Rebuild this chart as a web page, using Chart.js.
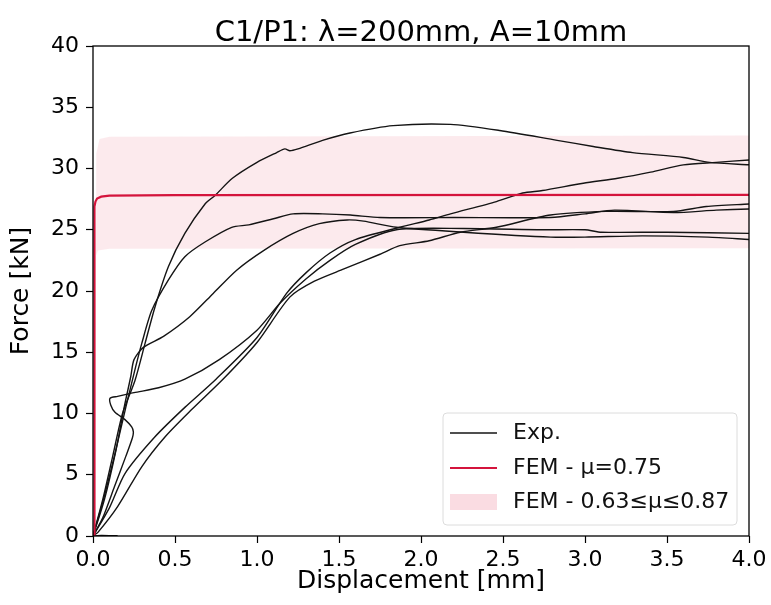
<!DOCTYPE html>
<html>
<head>
<meta charset="utf-8">
<script src="https://cdn.jsdelivr.net/npm/chart.js@4"></script>
<style>
  body { margin: 0; background: #fff; }
</style>
</head>
<body>
<canvas id="myChart" width="771" height="605"></canvas>
<script>
// experimental curves, displacement [mm] / force [kN]
var expA_x = [0, 0.06, 0.12, 0.18, 0.256, 0.317, 0.378, 0.46, 0.56, 0.683, 0.744, 0.85, 1.0, 1.12, 1.17, 1.2, 1.25, 1.4, 1.567, 1.83, 2.18, 2.48, 2.83, 3.05, 3.29, 3.6, 3.76, 4.0];
var expA_y = [0, 3, 6.5, 10, 12.7, 15.7, 18.7, 22.0, 24.7, 27.1, 27.8, 29.2, 30.5, 31.3, 31.6, 31.45, 31.6, 32.3, 32.9, 33.5, 33.6, 33.1, 32.3, 31.8, 31.3, 30.9, 30.5, 30.3];

var expB_x = [0, 0.06, 0.13, 0.2, 0.26, 0.297, 0.358, 0.46, 0.56, 0.683, 0.846, 0.95, 1.1, 1.22, 1.4, 1.57, 1.75, 2.2, 2.79, 3.0, 3.18, 3.54, 3.8, 4.0];
var expB_y = [0, 2.8, 6.5, 10.5, 13.8, 15.7, 18.4, 20.9, 22.8, 24.0, 25.2, 25.4, 25.9, 26.3, 26.3, 26.2, 26.0, 26.0, 26.0, 26.3, 26.6, 26.4, 26.6, 26.7];

var expC_x = [0, 0.07, 0.14, 0.19, 0.23, 0.25, 0.307, 0.43, 0.59, 0.733, 0.876, 1.04, 1.22, 1.38, 1.55, 1.65, 1.85, 2.26, 2.79, 3.0, 3.35, 3.75, 4.0];
var expC_y = [0, 3, 7, 10.5, 13, 14.4, 15.4, 16.3, 17.9, 19.8, 21.7, 23.3, 24.7, 25.5, 25.8, 25.7, 25.2, 24.8, 24.4, 24.4, 24.5, 24.4, 24.2];

var expD_x = [0, 0.06, 0.13, 0.2, 0.24, 0.246, 0.236, 0.195, 0.134, 0.108, 0.104, 0.15, 0.25, 0.4, 0.56, 0.77, 1.0, 1.14, 1.3, 1.445, 1.6, 1.85, 2.26, 2.74, 3.0, 3.1, 3.5, 4.0];
var expD_y = [0, 1.5, 4, 6.5, 8.0, 8.5, 8.9, 9.5, 10.1, 10.7, 11.25, 11.4, 11.7, 12.1, 12.8, 14.4, 16.8, 19.0, 21.0, 22.5, 23.8, 25.0, 25.1, 25.0, 25.0, 24.8, 24.8, 24.7];

var expE_x = [0, 0.1, 0.195, 0.378, 0.56, 0.75, 1.0, 1.18, 1.3, 1.445, 1.6, 1.87, 2.05, 2.18, 2.46, 2.62, 2.74, 2.99, 3.2, 3.4, 3.6, 3.8, 4.0];
var expE_y = [0, 2.3, 5.1, 8.1, 10.5, 12.8, 16.2, 19.8, 21.5, 23.1, 24.2, 25.2, 25.8, 26.3, 27.3, 28.0, 28.2, 28.8, 29.2, 29.7, 30.3, 30.5, 30.7];

var expF_x = [0.15, 0.05, 0, 0.03, 0.15, 0.297, 0.44, 0.6, 0.8, 1.0, 1.2, 1.35, 1.53, 1.75, 1.87, 2.05, 2.24, 2.46, 2.79, 3.13, 3.54, 3.74, 4.0];
var expF_y = [0.02, 0.05, 0, 0.3, 2.4, 5.65, 8.1, 10.3, 12.9, 15.8, 19.5, 20.8, 21.8, 23.0, 23.7, 24.1, 24.8, 25.2, 26.2, 26.5, 26.5, 26.9, 27.1];

// FEM, mu = 0.75
var fem_x = [0.008, 0.008, 0.01, 0.015, 0.025, 0.05, 0.1, 0.5, 4.0];
var fem_y = [0, 26.2, 26.9, 27.3, 27.55, 27.7, 27.78, 27.82, 27.85];

// FEM band, mu = 0.87 (upper) and mu = 0.63 (lower)
var bandHi_x = [0.015, 0.02, 0.04, 0.1, 4.0];
var bandHi_y = [0, 31.2, 32.4, 32.6, 32.7];
var bandLo_x = [0.005, 0.008, 0.03, 0.1, 4.0];
var bandLo_y = [0, 22.5, 23.3, 23.45, 23.5];

var xTicks = [0, 0.5, 1.0, 1.5, 2.0, 2.5, 3.0, 3.5, 4.0];
var yTicks = [0, 5, 10, 15, 20, 25, 30, 35, 40];

var titleText = "C1/P1: λ=200mm, A=10mm";
var legendLabels = ["Exp.", "FEM - μ=0.75", "FEM - 0.63≤μ≤0.87"];

function pts(xs, ys) {
    return xs.map(function (x, i) { return {x: x, y: ys[i]}; });
}

var BLACK = "#141414";
var RED = "#d4143c";
var PINK = "rgba(220,20,60,0.09)";
var FONT = "DejaVu Sans";

Chart.defaults.font.family = FONT;
Chart.defaults.color = "#000";

function expSet(xs, ys) {
    return {data: pts(xs, ys), borderColor: BLACK, borderWidth: 1.4, tension: 0.25, pointRadius: 0, showLine: true, fill: false};
}

var datasets = [
    {data: pts(fem_x, fem_y), borderColor: RED, borderWidth: 2.2, tension: 0, pointRadius: 0, showLine: true, fill: false},
    expSet(expA_x, expA_y),
    expSet(expB_x, expB_y),
    expSet(expC_x, expC_y),
    expSet(expD_x, expD_y),
    expSet(expE_x, expE_y),
    expSet(expF_x, expF_y),
    {data: pts(bandHi_x, bandHi_y), borderWidth: 0, borderColor: "rgba(0,0,0,0)", backgroundColor: PINK, pointRadius: 0, showLine: true, tension: 0, fill: "+1"},
    {data: pts(bandLo_x, bandLo_y), borderWidth: 0, borderColor: "rgba(0,0,0,0)", pointRadius: 0, showLine: true, tension: 0, fill: false}
];

// title over the axes, full box around the axes, legend in the lower right corner
var boxPlugin = {
    id: "boxAndLegend",
    afterDatasetsDraw: function (chart) {
        var a = chart.chartArea, c = chart.ctx;
        c.save();
        c.strokeStyle = "#000";
        c.lineWidth = 1.3;
        c.strokeRect(a.left, a.top, a.right - a.left, a.bottom - a.top);
        c.restore();
    },
    afterDraw: function (chart) {
        var a = chart.chartArea, c = chart.ctx;
        c.save();
        c.font = "29px " + FONT;
        c.fillStyle = "#000";
        c.textAlign = "center";
        c.textBaseline = "alphabetic";
        c.fillText(titleText, (a.left + a.right) / 2, a.top - 5);
        c.textAlign = "left";

        var w = 294, h = 112;
        var left = a.right - 12 - w, top = a.bottom - 11 - h;
        c.beginPath();
        c.roundRect(left, top, w, h, 4);
        c.fillStyle = "rgba(255,255,255,0.8)";
        c.fill();
        c.strokeStyle = "#dcdcdc";
        c.lineWidth = 1;
        c.stroke();
        c.font = "22px " + FONT;
        c.textBaseline = "middle";
        var rows = [top + 20, top + 55, top + 89];
        c.strokeStyle = BLACK; c.lineWidth = 1.4;
        c.beginPath(); c.moveTo(left + 7, rows[0]); c.lineTo(left + 54, rows[0]); c.stroke();
        c.strokeStyle = RED; c.lineWidth = 2.2;
        c.beginPath(); c.moveTo(left + 7, rows[1]); c.lineTo(left + 54, rows[1]); c.stroke();
        c.fillStyle = "rgba(220,20,60,0.15)";
        c.fillRect(left + 7, rows[2] - 8, 47, 16);
        c.fillStyle = "#111";
        for (var i = 0; i < legendLabels.length; i++) {
            c.fillText(legendLabels[i], left + 70, rows[i]);
        }
        c.restore();
    }
};

var ctx = document.getElementById("myChart").getContext("2d");
var myChart = new Chart(ctx, {
    type: "scatter",
    data: {datasets: datasets},
    plugins: [boxPlugin],
    options: {
        responsive: false,
        animation: false,
        layout: {padding: {left: 0, top: 46, right: 22, bottom: 0}},
        plugins: {
            legend: {display: false},
            tooltip: {enabled: false},
            title: {display: false}
        },
        scales: {
            x: {
                type: "linear",
                min: 0, max: 4,
                afterBuildTicks: function (s) { s.ticks = xTicks.map(function (v) { return {value: v}; }); },
                ticks: {
                    color: "#000",
                    font: {size: 22},
                    padding: 4,
                    maxRotation: 0,
                    autoSkip: false,
                    callback: function (v) { return Number(v).toFixed(1); }
                },
                grid: {drawOnChartArea: false, drawTicks: true, tickLength: 7, color: "#000", tickWidth: 1.2},
                border: {display: false},
                title: {display: true, text: "Displacement [mm]", color: "#000", font: {size: 25, lineHeight: 1.2}, padding: {top: 0, bottom: 9}},
                afterFit: function (s) { s.height = 69; }
            },
            y: {
                type: "linear",
                min: 0, max: 40,
                afterBuildTicks: function (s) { s.ticks = yTicks.map(function (v) { return {value: v}; }); },
                ticks: {color: "#000", font: {size: 22}, padding: 7, autoSkip: false},
                grid: {drawOnChartArea: false, drawTicks: true, tickLength: 7, color: "#000", tickWidth: 1.2},
                border: {display: false},
                title: {display: true, text: "Force [kN]", color: "#000", font: {size: 25, lineHeight: 1.2}, padding: {top: 6, bottom: 0}},
                afterFit: function (s) { s.width = 93; }
            }
        }
    }
});
</script>
</body>
</html>
